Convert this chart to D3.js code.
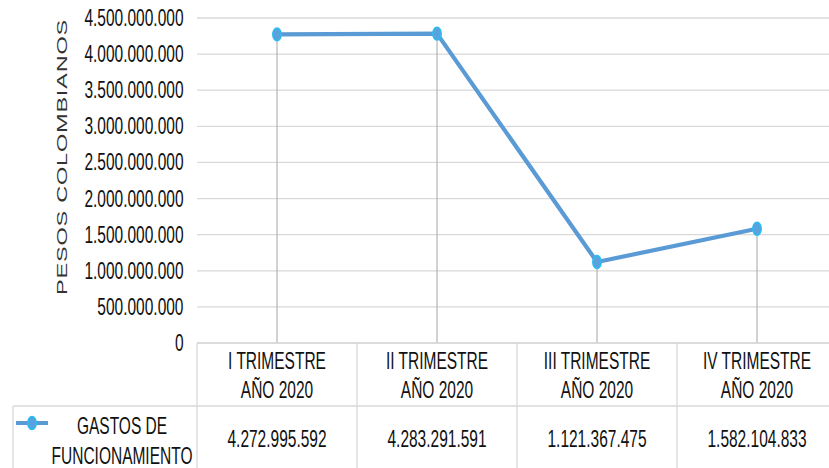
<!DOCTYPE html>
<html>
<head>
<meta charset="utf-8">
<script src="https://cdn.jsdelivr.net/npm/d3@7"></script>
<style>
  body { margin: 0; background: #fff; }
  text { font-family: "Liberation Sans", Arial, sans-serif; }
</style>
</head>
<body>
<div id="chart"></div>
<script>
// data
var categories = ["I TRIMESTRE|AÑO 2020", "II TRIMESTRE|AÑO 2020", "III TRIMESTRE|AÑO 2020", "IV TRIMESTRE|AÑO 2020"];
var gastos = [4272995592, 4283291591, 1121367475, 1582104833];
var seriesName = ["GASTOS DE", "FUNCIONAMIENTO"];
var yTicks = [0, 500000000, 1000000000, 1500000000, 2000000000, 2500000000, 3000000000, 3500000000, 4000000000, 4500000000];

var width = 829, height = 468;
var sx = 0.66; // the original is squeezed sideways
var fs = 23.5;
var lineColor = "#5b9bd5", markFill = "#5aa2dc", markStroke = "#2bbcf4";
var gridColor = "#d9d9d9";
var txtColor = "#111";

var fmt = d3.formatLocale({decimal: ",", thousands: ".", grouping: [3], currency: ["$", ""]}).format(",d");

var svg = d3.select("#chart").append("svg")
  .attr("width", width)
  .attr("height", height);

var x = d3.scaleBand()
  .domain(categories)
  .range([197, 197 + 640]);

var y = d3.scaleLinear()
  .domain([0, 4500000000])
  .range([343, 18]);

function cx(d) { return x(d) + x.bandwidth() / 2; }

// gridlines
svg.append("g").selectAll("line")
  .data(yTicks).enter().append("line")
  .attr("x1", 197).attr("x2", width)
  .attr("y1", function(d) { return y(d); })
  .attr("y2", function(d) { return y(d); })
  .style("stroke", gridColor)
  .style("stroke-width", 1.3);

// tick labels
svg.append("g").selectAll("text")
  .data(yTicks).enter().append("text")
  .attr("transform", function(d) { return "translate(183.5," + (y(d) + 8) + ") scale(" + sx + ",1)"; })
  .attr("text-anchor", "end")
  .style("font-size", fs + "px")
  .style("fill", txtColor)
  .text(function(d) { return fmt(d); });

// axis title
svg.append("text")
  .attr("transform", "translate(62,157) scale(" + sx + ",1) rotate(-90)")
  .attr("text-anchor", "middle")
  .attr("dominant-baseline", "central")
  .style("font-size", "23.5px")
  .style("letter-spacing", "0.8px")
  .style("fill", "#333")
  .text("PESOS COLOMBIANOS");

// drop lines
svg.append("g").selectAll("line")
  .data(categories).enter().append("line")
  .attr("x1", cx).attr("x2", cx)
  .attr("y1", function(d, i) { return y(gastos[i]); })
  .attr("y2", y(0))
  .style("stroke", "#a6a6a6")
  .style("stroke-width", 1);

// table grid
var tbl = svg.append("g").style("stroke", gridColor).style("stroke-width", 1.3);
tbl.append("line").attr("x1", 197).attr("x2", width).attr("y1", 343).attr("y2", 343);
tbl.append("line").attr("x1", 13).attr("x2", width).attr("y1", 406).attr("y2", 406);
tbl.append("line").attr("x1", 13).attr("x2", 13).attr("y1", 406).attr("y2", height);
tbl.selectAll(".col")
  .data(categories).enter().append("line")
  .attr("class", "col")
  .attr("x1", function(d) { return x(d); })
  .attr("x2", function(d) { return x(d); })
  .attr("y1", 343).attr("y2", height);

// header labels
var head = svg.append("g").selectAll("g")
  .data(categories).enter().append("g");
head.each(function(d) {
  var parts = d.split("|");
  var g = d3.select(this);
  parts.forEach(function(p, k) {
    g.append("text")
      .attr("transform", "translate(" + cx(d) + "," + (368.5 + k * 29) + ") scale(" + sx + ",1)")
      .attr("text-anchor", "middle")
      .style("font-size", fs + "px")
      .style("fill", txtColor)
      .text(p);
  });
});

// values row
svg.append("g").selectAll("text")
  .data(categories).enter().append("text")
  .attr("transform", function(d) { return "translate(" + cx(d) + ",446.5) scale(" + sx + ",1)"; })
  .attr("text-anchor", "middle")
  .style("font-size", fs + "px")
  .style("fill", txtColor)
  .text(function(d, i) { return fmt(gastos[i]); });

// legend key
svg.append("line")
  .attr("x1", 16).attr("x2", 48).attr("y1", 423).attr("y2", 423)
  .style("stroke", lineColor).style("stroke-width", 4);
svg.append("ellipse")
  .attr("cx", 32).attr("cy", 423).attr("rx", 6.4 * sx).attr("ry", 6.4)
  .style("fill", markFill).style("stroke", markStroke).style("stroke-width", 1.5);
seriesName.forEach(function(s, k) {
  svg.append("text")
    .attr("transform", "translate(122," + (433.5 + k * 30) + ") scale(" + sx + ",1)")
    .attr("text-anchor", "middle")
    .style("font-size", fs + "px")
    .style("fill", txtColor)
    .text(s);
});

// series line
var line = d3.line()
  .x(function(d, i) { return cx(categories[i]); })
  .y(function(d) { return y(d); });

svg.append("path")
  .datum(gastos)
  .attr("d", line)
  .style("fill", "none")
  .style("stroke", lineColor)
  .style("stroke-width", 4.2)
  .style("stroke-linejoin", "round");

svg.append("g").selectAll("ellipse")
  .data(gastos).enter().append("ellipse")
  .attr("cx", function(d, i) { return cx(categories[i]); })
  .attr("cy", function(d) { return y(d); })
  .attr("rx", 6.4 * sx)
  .attr("ry", 6.4)
  .style("fill", markFill)
  .style("stroke", markStroke)
  .style("stroke-width", 1.5);
</script>
</body>
</html>
